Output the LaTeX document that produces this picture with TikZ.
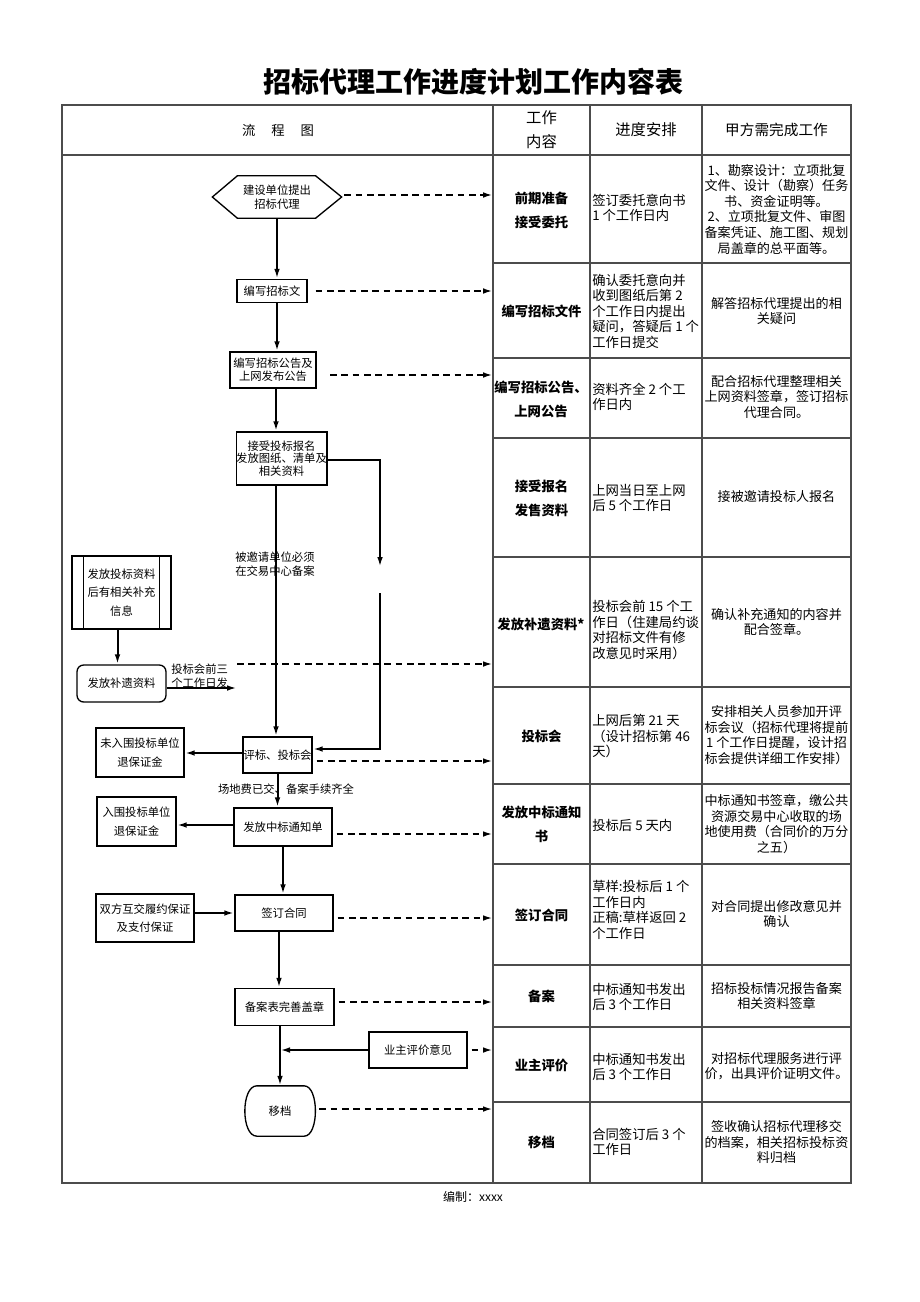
\documentclass[tikz,border=0pt]{standalone}
\usepackage{fontspec}
\setmainfont{Noto Sans CJK SC}
\usetikzlibrary{arrows.meta}
\def\pxu{0.75pt}
\begin{document}
\begin{tikzpicture}[x=0.75pt,y=-0.75pt,
 grid/.style={draw=black!70, line width=0.8pt},
 sz/.style 2 args={minimum width=#1*0.75pt, minimum height=#2*0.75pt},
 fb/.style={draw, line width=1pt, align=center, inner sep=0pt, font=\fontsize{8.5}{9.5}\selectfont},
 ln/.style={line width=1.5pt},
 arr/.style={line width=1.5pt, -{Latex[length=7.5pt,width=4.2pt]}},
 darr/.style={arr, dash pattern=on 5pt off 3.5pt},
 c2/.style={align=center, inner sep=0pt, font=\bfseries\fontsize{10}{18}\selectfont},
 c3/.style={align=left, anchor=west, inner sep=0pt, font=\fontsize{10}{11.6}\selectfont},
 c4/.style={align=center, inner sep=0pt, font=\fontsize{9.8}{11.7}\selectfont},
 lab/.style={align=left, inner sep=0pt, font=\fontsize{8.5}{10.5}\selectfont}]

\useasboundingbox[fill=white] (0,0) rectangle (920,1302);

% ---------- table grid ----------
\draw[grid] (62,105) rectangle (851,1183);
\draw[grid] (62,155) -- (851,155);
\foreach \x in {493,590,702} \draw[grid] (\x,105) -- (\x,1183);
\foreach \y in {263,358,438,557,687,784,864,965,1027,1102} \draw[grid] (493,\y) -- (851,\y);
\coordinate (colB) at (493,0);

% ---------- title / header / footer ----------
\node[font=\bfseries\fontsize{21}{24}\selectfont] (title) at (473,82) {招标代理工作进度计划工作内容表};
\node[font=\fontsize{10}{12}\selectfont] (h1) at (278,130) {流\hspace{1.2em}程\hspace{1.2em}图};
\node[align=center, font=\fontsize{11.5}{18}\selectfont] (h2) at (541.5,130) {工作\\内容};
\node[font=\fontsize{11.5}{14}\selectfont] (h3) at (646,130) {进度安排};
\node[font=\fontsize{11}{14}\selectfont] (h4) at (776.5,130) {甲方需完成工作};
\node[font=\fontsize{9}{11}\selectfont] (foot) at (473,1197) {编制：xxxx};

% ---------- column 2 ----------
\node[c2] (r1b) at (541.5,210) {前期准备\\接受委托};
\node[c2] (r2b) at (541.5,311) {编写招标文件};
\node[c2] (r3b) at (541,399) {编写招标公告、\\上网公告};
\node[c2] (r4b) at (541.5,498) {接受报名\\发售资料};
\node[c2] (r5b) at (541,624) {发放补遗资料*};
\node[c2] (r6b) at (541.5,736) {投标会};
\node[c2] (r7b) at (541.5,824) {发放中标通知\\书};
\node[c2] (r8b) at (541.5,915) {签订合同};
\node[c2] (r9b) at (541.5,996) {备案};
\node[c2] (r10b) at (541.5,1065) {业主评价};
\node[c2] (r11b) at (541.5,1142) {移档};

% ---------- column 3 ----------
\node[c3] (r1c) at (592,208) {签订委托意向书\\1 个工作日内};
\node[c3] (r2c) at (592,311) {确认委托意向并\\收到图纸后第 2\\个工作日内提出\\疑问，答疑后 1 个\\工作日提交};
\node[c3] (r3c) at (592,397) {资料齐全 2 个工\\作日内};
\node[c3] (r4c) at (592,498) {上网当日至上网\\后 5 个工作日};
\node[c3] (r5c) at (592,630) {投标会前 15 个工\\作日（住建局约谈\\对招标文件有修\\改意见时采用）};
\node[c3] (r6c) at (592,736) {上网后第 21 天\\（设计招标第 46\\天）};
\node[c3] (r7c) at (592,825) {投标后 5 天内};
\node[c3] (r8c) at (592,910) {草样:投标后 1 个\\工作日内\\正稿:草样返回 2\\个工作日};
\node[c3] (r9c) at (592,997) {中标通知书发出\\后 3 个工作日};
\node[c3] (r10c) at (592,1067) {中标通知书发出\\后 3 个工作日};
\node[c3] (r11c) at (592,1142) {合同签订后 3 个\\工作日};

% ---------- column 4 ----------
\node[c4] (r1d) at (776.5,209) {1、勘察设计：立项批复\\文件、设计（勘察）任务\\书、资金证明等。\\2、立项批复文件、审图\\备案凭证、施工图、规划\\局盖章的总平面等。};
\node[c4] (r2d) at (776.5,311) {解答招标代理提出的相\\关疑问};
\node[c4] (r3d) at (776.5,397) {配合招标代理整理相关\\上网资料签章，签订招标\\代理合同。};
\node[c4] (r4d) at (776.5,497) {接被邀请投标人报名};
\node[c4] (r5d) at (776.5,622) {确认补充通知的内容并\\配合签章。};
\node[c4] (r6d) at (776.5,735) {安排相关人员参加开评\\标会议（招标代理将提前\\1 个工作日提醒，设计招\\标会提供详细工作安排）};
\node[c4] (r7d) at (776.5,824) {中标通知书签章，缴公共\\资源交易中心收取的场\\地使用费（合同价的万分\\之五）};
\node[c4] (r8d) at (776.5,914) {对合同提出修改意见并\\确认};
\node[c4] (r9d) at (776.5,996) {招标投标情况报告备案\\相关资料签章};
\node[c4] (r10d) at (776.5,1066) {对招标代理服务进行评\\价，出具评价证明文件。};
\node[c4] (r11d) at (776.5,1142) {签收确认招标代理移交\\的档案，相关招标投标资\\料归档};

% ---------- flow nodes ----------
\node[fb, draw=none, sz={128}{41}, font=\fontsize{8.5}{10}\selectfont] (hex) at (277,197) {建设单位提出\\招标代理};
\draw[line width=1pt] (hex.west) -- ([xshift=25*\pxu]hex.north west) -- ([xshift=-26*\pxu]hex.north east) -- (hex.east) -- ([xshift=-26*\pxu]hex.south east) -- ([xshift=25*\pxu]hex.south west) -- cycle;
\node[fb, sz={70}{23}] (bz) at (272,291) {编写招标文};
\node[fb, sz={86}{36}] (gg) at (273,370) {编写招标公告及\\上网发布公告};
\node[fb, sz={89}{53}] (bm) at (281.5,458.5) {接受投标报名\\发放图纸、清单及\\相关资料};
\node[fb, sz={99}{73}, font=\fontsize{8.5}{14}\selectfont] (bc) at (121.5,592.5) {发放投标资料\\后有相关补充\\信息};
\draw[line width=1pt] ([xshift=12*\pxu]bc.north west) -- ([xshift=12*\pxu]bc.south west);
\draw[line width=1pt] ([xshift=-12*\pxu]bc.north east) -- ([xshift=-12*\pxu]bc.south east);
\node[fb, sz={89}{37}, rounded corners=5pt] (by) at (121.5,683.5) {发放补遗资料};
\node[fb, sz={69}{36}] (pb) at (277.5,755) {评标、投标会};
\node[fb, sz={88}{49}, font=\fontsize{8.5}{14}\selectfont] (wr) at (140,752.5) {未入围投标单位\\退保证金};
\node[fb, sz={98}{38}] (zb) at (283,827) {发放中标通知单};
\node[fb, sz={79}{49}, font=\fontsize{8.5}{14}\selectfont] (rw) at (136.5,821.5) {入围投标单位\\退保证金};
\node[fb, sz={98}{36}] (qd) at (284,913) {签订合同};
\node[fb, sz={98}{48}, font=\fontsize{8.5}{14}\selectfont] (sf) at (145,918) {双方互交履约保证\\及支付保证};
\node[fb, sz={99}{37}] (ba) at (284.5,1007) {备案表完善盖章};
\node[fb, sz={98}{36}] (yz) at (418,1050) {业主评价意见};
\node[fb, draw=none, sz={69}{49}] (yd) at (280,1111) {移档};
\draw[line width=1pt] ([xshift=12*\pxu]yd.north west) -- ([xshift=-11*\pxu]yd.north east)
  .. controls ([xshift=4*\pxu]yd.north east) and ([xshift=4*\pxu]yd.south east) .. ([xshift=-11*\pxu]yd.south east)
  -- ([xshift=12*\pxu]yd.south west)
  .. controls ([xshift=-4*\pxu]yd.south west) and ([xshift=-4*\pxu]yd.north west) .. cycle;

% ---------- labels ----------
\node[lab, anchor=west] (lb1) at (235,564) {被邀请单位必须\\在交易中心备案};
\node[lab, anchor=west] (lb2) at (171,676) {投标会前三\\个工作日发};
\node[lab] (lb3) at (286,789) {场地费已交、备案手续齐全};

% ---------- solid connectors ----------
\draw[arr] (hex.south) -- (hex.south |- bz.north);
\draw[arr] (hex.south |- bz.south) -- (hex.south |- gg.north);
\draw[arr] ([xshift=-1*\pxu]hex.south |- gg.south) -- ([xshift=-1*\pxu]hex.south |- bm.north);
\draw[arr] ([xshift=-1*\pxu]hex.south |- bm.south) -- ([xshift=-1*\pxu]hex.south |- pb.north);
\coordinate (k1) at (380,460);
\coordinate (k2) at (380,567);
\coordinate (k3) at (380,593);
\coordinate (k4) at (380,749);
\draw[arr] (bm.east |- k1) -- (k1) -- (k2);
\draw[arr] (k3) -- (k4) -- (pb.east |- k4);
\draw[arr] ([xshift=-4*\pxu]bc.south) -- ([xshift=-4*\pxu]bc.south |- by.north);
\coordinate (e1) at (237,688);
\draw[arr] (by.east |- e1) -- (e1);
\draw[arr] ([yshift=2*\pxu]pb.west) -- ([yshift=2*\pxu]pb.west -| wr.east);
\draw[arr] (pb.south) -- (pb.south |- zb.north);
\draw[arr] ([yshift=2*\pxu]zb.west) -- ([yshift=2*\pxu]zb.west -| rw.east);
\draw[arr] (zb.south) -- (zb.south |- qd.north);
\draw[arr] ([yshift=5*\pxu]sf.east) -- ([yshift=5*\pxu]sf.east -| qd.west);
\draw[arr] ([xshift=-5*\pxu]qd.south) -- ([xshift=-5*\pxu]qd.south |- ba.north);
\draw[arr] (yd.north |- ba.south) -- (yd.north);
\draw[arr] (yz.west) -- (yd.north |- yz.west);

% ---------- dashed connectors ----------
\path ([yshift=2*\pxu]hex.east) coordinate (p1);
\draw[darr, shorten <=2pt] (p1) -- (p1 -| colB);
\draw[darr, shorten <=6pt] (bz.east) -- (bz.east -| colB);
\path ([yshift=-5*\pxu]gg.east) coordinate (p3);
\draw[darr, shorten <=10pt] (p3) -- (p3 -| colB);
\coordinate (d5) at (237,664);
\draw[darr] (d5) -- (d5 -| colB);
\path ([yshift=-6*\pxu]pb.east) coordinate (p6);
\draw[darr, shorten <=3pt] (p6) -- (p6 -| colB);
\path ([yshift=-7*\pxu]zb.east) coordinate (p7);
\draw[darr, shorten <=3pt] (p7) -- (p7 -| colB);
\path ([yshift=-5*\pxu]qd.east) coordinate (p8);
\draw[darr, shorten <=3pt] (p8) -- (p8 -| colB);
\path ([yshift=5*\pxu]ba.east) coordinate (p9);
\draw[darr, shorten <=3pt] (p9) -- (p9 -| colB);
\draw[darr, shorten <=3pt] (yz.east) -- (yz.east -| colB);
\path ([yshift=2*\pxu]yd.east) coordinate (p11);
\draw[darr, shorten <=3pt] (p11) -- (p11 -| colB);
\end{tikzpicture}
\end{document}
